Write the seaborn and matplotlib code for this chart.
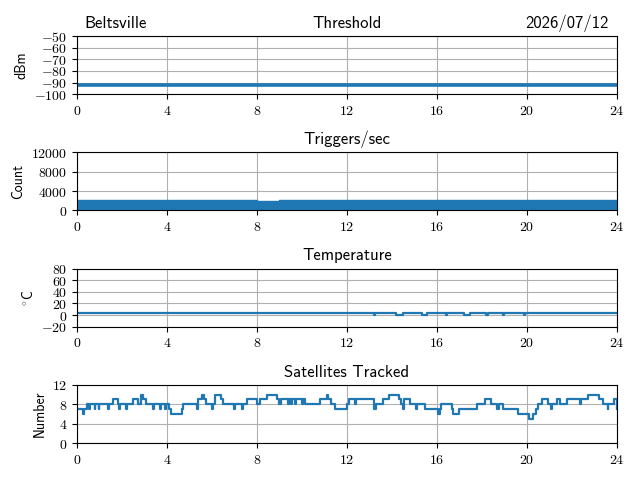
import numpy as np
import pandas as pd
import matplotlib
matplotlib.use("Agg")
import matplotlib.pyplot as plt
import seaborn as sns

# ---------------- data ----------------
x_ticks = [0, 4, 8, 12, 16, 20, 24]

thr_hours = [0, 24]
thr_values = [-92, -92]
thr_ticks = [-100, -90, -80, -70, -60, -50]

trig_hours = [i * 0.5 for i in range(49)]
trig_values = [2200, 2180, 2200, 2190, 2170, 2160, 2140, 2160, 2120, 2110,
               2100, 2110, 2080, 2070, 2090, 2060, 2040, 2050, 2070, 2080,
               2070, 2090, 2080, 2110, 2100, 2120, 2140, 2130, 2110, 2120,
               2100, 2090, 2080, 2100, 2120, 2110, 2130, 2140, 2130, 2150,
               2160, 2150, 2140, 2170, 2180, 2190, 2180, 2200, 2200]
trig_ticks = [0, 4000, 8000, 12000]

temp_hours = [0, 13.2, 13.25, 14.2, 14.5, 15.35, 15.55, 16.4, 16.45, 17.2,
              17.45, 18.2, 18.25, 18.95, 19.0, 19.85, 19.9, 24]
temp_values = [3, 1, 3, 1, 3, 1, 3, 1, 3, 1, 3, 1, 3, 1, 3, 1, 3, 3]
temp_ticks = [-20, 0, 20, 40, 60, 80]

sat_hours = [0, 0.25, 0.32, 0.45, 0.55, 0.6, 0.78, 0.82, 0.96, 1.0, 1.37, 1.41,
             1.62, 1.84, 1.88, 1.92, 2.17, 2.21, 2.5, 2.72, 2.86, 2.92, 3.05,
             3.38, 3.42, 3.68, 3.72, 3.92, 3.96, 4.1, 4.2, 4.65, 4.72, 5.33,
             5.37, 5.4, 5.57, 5.63, 5.75, 5.98, 6.03, 6.15, 6.42, 6.5, 6.98,
             7.02, 7.33, 7.37, 7.55, 8.0, 8.15, 8.43, 8.88, 9.0, 9.05, 9.38,
             9.43, 9.5, 9.55, 9.68, 9.73, 9.98, 10.03, 10.13, 10.8, 11.1,
             11.15, 11.3, 11.46, 11.6, 12.02, 12.1, 12.35, 12.4, 13.22, 13.28,
             13.6, 13.85, 14.3, 14.42, 14.47, 14.53, 14.8, 15.05, 15.1, 15.45,
             16.05, 16.15, 16.2, 16.65, 16.72, 17.0, 17.05, 17.8, 18.15, 18.4,
             18.68, 18.75, 18.95, 19.25, 19.6, 20.1, 20.25, 20.4, 20.5, 20.65,
             20.95, 21.08, 21.13, 21.35, 21.45, 21.8, 22.35, 22.4, 22.7, 23.2,
             23.4, 23.58, 23.62, 23.88, 23.98, 24.0]
sat_values = [7, 6, 7, 8, 7, 8, 7, 8, 7, 8, 7, 8,
              9, 8, 7, 8, 7, 8, 9, 8, 10, 9, 8,
              7, 8, 7, 8, 7, 8, 7, 6, 7, 8, 7,
              8, 9, 10, 9, 8, 7, 8, 10, 9, 8, 7,
              8, 7, 8, 9, 8, 9, 10, 9, 8, 9, 8,
              9, 8, 9, 8, 9, 8, 9, 8, 9, 10,
              9, 8, 7, 7, 8, 9, 8, 9, 7, 8,
              9, 10, 9, 8, 7, 9, 8, 7, 8, 7,
              6, 7, 8, 7, 6, 7, 7, 8, 9, 8,
              7, 8, 7, 7, 6, 5, 6, 7, 8, 9,
              8, 7, 8, 9, 8, 9, 8, 9, 10, 9,
              8, 7, 8, 9, 7, 7]
sat_ticks = [0, 4, 8, 12]

# ---------------- style ----------------
plt.rcParams['mathtext.fontset'] = 'cm'
plt.rcParams['font.family'] = ['cmss10', 'DejaVu Sans']
plt.rcParams['axes.unicode_minus'] = False
color = '#1f77b4'
SANS = ['cmss10', 'DejaVu Sans']


def m(v):
    return r'$%s$' % v


fig, axes = plt.subplots(4, 1, figsize=(6.4, 4.8), dpi=100)
fig.subplots_adjust(left=0.1203, right=0.964, top=0.925, bottom=0.077, hspace=1.0)

# Threshold
ax = axes[0]
sns.lineplot(x=thr_hours, y=thr_values, ax=ax, color=color, linewidth=2.6)
ax.set_ylim(-100, -50)
ax.set_yticks(thr_ticks, labels=[m(v) for v in thr_ticks])
ax.set_ylabel('dBm', fontsize=10, family=SANS)
ax.set_title('Threshold', fontsize=12, family=SANS)
ax.set_title('Beltsville', loc='left', fontsize=12, x=0.013, family=SANS)
ax.set_title('2026/07/12', loc='right', fontsize=12, x=0.985, family=SANS)

# Triggers/sec
ax = axes[1]
ax.fill_between(trig_hours, 0, trig_values, step='post', color=color, linewidth=0)
sns.lineplot(x=trig_hours, y=trig_values, ax=ax, color=color, linewidth=1.0,
             drawstyle='steps-post', estimator=None)
ax.set_ylim(0, 12000)
ax.set_yticks(trig_ticks, labels=[m(v) for v in trig_ticks])
ax.set_ylabel('Count', fontsize=10, family=SANS)
ax.set_title('Triggers/sec', fontsize=12, family=SANS)

# Temperature
ax = axes[2]
sns.lineplot(x=temp_hours, y=temp_values, ax=ax, color=color, linewidth=1.6,
             drawstyle='steps-post', estimator=None, sort=False)
ax.set_ylim(-20, 80)
ax.set_yticks(temp_ticks, labels=[m(v) for v in temp_ticks])
ax.set_ylabel(r'$^{\circ}$C', fontsize=10, family=SANS)
ax.set_title('Temperature', fontsize=12, family=SANS)

# Satellites
ax = axes[3]
sns.lineplot(x=sat_hours, y=sat_values, ax=ax, color=color, linewidth=1.6,
             drawstyle='steps-post', estimator=None, sort=False)
ax.set_ylim(0, 12)
ax.set_yticks(sat_ticks, labels=[m(v) for v in sat_ticks])
ax.set_ylabel('Number', fontsize=10, family=SANS)
ax.set_title('Satellites Tracked', fontsize=12, family=SANS)

for ax in axes:
    ax.set_xlim(0, 24)
    ax.set_xticks(x_ticks, labels=[m(v) for v in x_ticks])
    ax.grid(True, color='#b0b0b0', linewidth=0.8)
    ax.set_axisbelow(True)
    ax.set_xlabel('')
    ax.tick_params(labelsize=10)

fig.savefig('out.png', dpi=100)
